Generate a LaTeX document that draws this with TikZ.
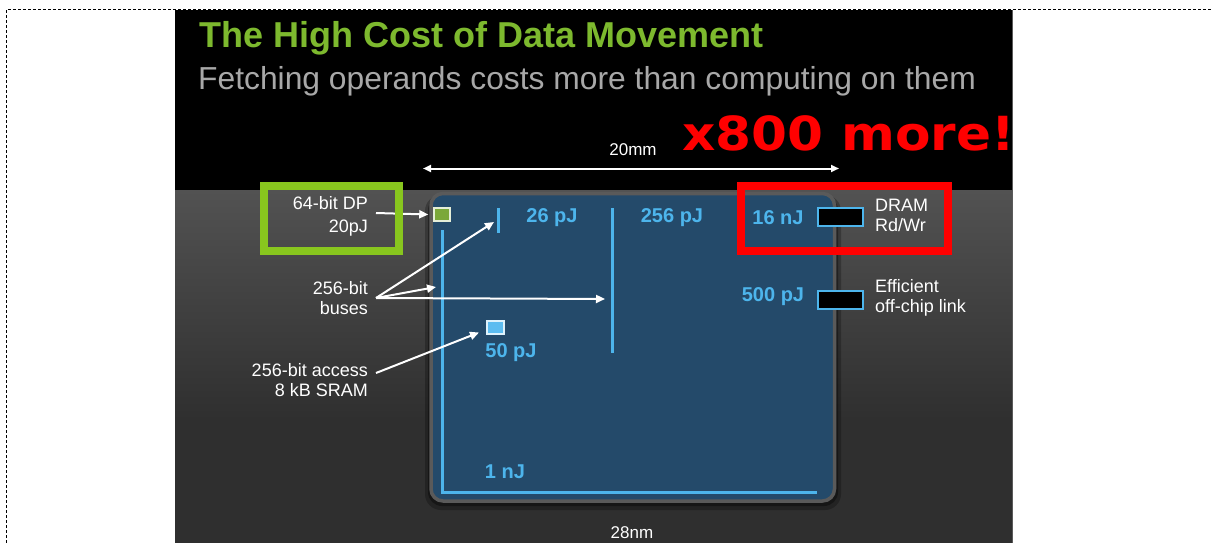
\documentclass[tikz,border=0pt]{standalone}
\usepackage{fontspec}
\setmainfont{Liberation Sans}
\newfontfamily\shoutfont{DejaVu Sans}
\usetikzlibrary{arrows.meta}

\definecolor{titlegreen}{HTML}{7DB92E}
\definecolor{subgray}{HTML}{A8A8A8}
\definecolor{chipblue}{HTML}{244A6A}
\definecolor{chiprim}{HTML}{5A5A5A}
\definecolor{wireblue}{HTML}{4DB5EC}
\definecolor{framegreen}{HTML}{88C61E}
\definecolor{alarmred}{HTML}{FF0000}
\definecolor{alugreen}{HTML}{7BA83A}
\definecolor{sramblue}{HTML}{5CBCF0}
\definecolor{floorgray}{HTML}{2F2F2F}
\definecolor{bandgray}{HTML}{525252}

\newcommand\fsz[2]{\fontsize{#1}{#2}\selectfont}

\begin{document}
\begin{tikzpicture}[x=1pt,y=-1pt,
  wire/.style={draw=wireblue,line width=3pt},
  callout/.style={white,line width=2pt,-{Triangle[length=9pt,width=8pt]}},
  dimline/.style={white,line width=2pt,{Triangle[length=8pt,width=7pt]}-{Triangle[length=8pt,width=7pt]}},
  leftlabel/.style={text=white,font={\fsz{18}{22}},align=right,anchor=east,inner sep=0pt},
  rightlabel/.style={text=white,font={\fsz{18}{20}},align=left,anchor=west,inner sep=0pt},
  energy/.style={text=wireblue,font={\bfseries\fsz{20}{24}},inner sep=0pt},
  padbox/.style={draw=wireblue,fill=black,line width=2pt,minimum width=45pt,minimum height=18pt,inner sep=0pt},
  unitbox/.style={line width=1.5pt,minimum width=16pt,minimum height=13pt,inner sep=0pt},
]
\useasboundingbox (0,0) rectangle (1211,543);

% page frame
\draw[black,line width=1pt,dash pattern=on 3pt off 2pt] (6.5,543) -- (6.5,9.5) -- (1211,9.5);

% slide background: black header, grey floor with a lighter band
\fill[black] (175,10.5) rectangle (1012,190);
\fill[floorgray] (175,190) rectangle (1012,543);
\shade[top color=bandgray,bottom color=floorgray] (175,190) rectangle (1012,420);
\draw[chiprim,line width=1pt] (1012,10.5) -- (1012,543);

% title and subtitle
\node[anchor=west,inner sep=0pt,text=titlegreen,font={\bfseries\fsz{36}{40}}] (title) at (199,38.5) {The High Cost of Data Movement};
\node[anchor=west,inner sep=0pt,text=subgray,font={\fsz{31.8}{36}}] (subtitle) at (198,81.5) {Fetching operands costs more than computing on them};

% red exclamation
\node[anchor=west,inner sep=0pt,text=alarmred,font={\shoutfont\bfseries\fsz{47}{50}},xscale=1.1] (shout) at (682,133) {x800 more!};

% die size
\coordinate (dimL) at (423,168.5);
\coordinate (dimR) at (839,168.5);
\draw[dimline] (dimL) -- (dimR);
\node[text=white,font={\fsz{17}{20}},inner sep=0pt] (mm) at (633,150) {20mm};

% chip with its shadow
\fill[black,opacity=0.25,rounded corners=16pt] (425,195) rectangle (841,510);
\fill[black,opacity=0.35,rounded corners=14pt] (428,196) rectangle (838,506);
\draw[chiprim,line width=3.5pt,fill=chipblue,rounded corners=12pt] (431,193.5) rectangle (834.5,501);

% on-chip wires
\coordinate (wireTop) at (442,230);
\coordinate (wireCorner) at (442,492);
\coordinate (wireEnd) at (817,492);
\draw[wire] (wireTop) -- (wireCorner) -- (wireEnd);
\coordinate (tickTop) at (498,208);
\coordinate (tickBot) at (498,233);
\draw[wire] (tickTop) -- (tickBot);
\coordinate (longTop) at (612,208);
\coordinate (longBot) at (612,353);
\draw[wire] (longTop) -- (longBot);

% functional units
\node[unitbox,draw=white!80!alugreen,fill=alugreen] (alu) at (442,214.5) {};
\node[unitbox,draw=white!80!sramblue,fill=sramblue,minimum width=17pt] (sram) at (495.5,327.5) {};
\node[padbox] (dram) at (840.5,217) {};
\node[padbox] (link) at (840.5,300) {};

% energy figures
\node[energy] (e26) at (552,218) {26 pJ};
\node[energy] (e256) at (672,218) {256 pJ};
\node[energy] (e16) at (778,218) {16 nJ};
\node[energy] (e500) at (773,297) {500 pJ};
\node[energy] (e50) at (511,353) {50 pJ};
\node[energy] (e1) at (505,472) {1 nJ};

% off-chip labels
\node[rightlabel] (dramlbl) at (875,215) {DRAM\\Rd/Wr};
\node[rightlabel] (linklbl) at (875,297.5) {Efficient\\off-chip link};

% left-hand labels
\node[leftlabel,font={\fsz{18}{23}}] (dp) at (368,216.5) {64-bit DP\\20pJ};
\node[leftlabel,font={\fsz{18}{20}}] (buses) at (368,298) {256-bit\\buses};
\node[leftlabel,font={\fsz{18}{20}}] (access) at (368,380) {256-bit access\\8 kB SRAM};

% callout arrows
\coordinate (busA) at (494,222);
\coordinate (busB) at (436,287);
\coordinate (busC) at (605,299);
\coordinate (sramTip) at (479,332.5);
\draw[callout] ([shift={(8,-3.5)}]dp.east) -- ([xshift=-5pt]alu.west);
\draw[callout] ([xshift=8pt]buses.east) -- (busA);
\draw[callout] ([xshift=8pt]buses.east) -- (busB);
\draw[callout] ([xshift=8pt]buses.east) -- (busC);
\draw[callout] ([shift={(8,-7)}]access.east) -- (sramTip);

% process node
\node[text=white,font={\fsz{17}{20}},inner sep=0pt] (node28) at (632,533) {28nm};

% highlight frames
\draw[framegreen,line width=8pt] (264,186) rectangle (399,251);
\draw[alarmred,line width=8pt] (741,186) rectangle (948,251);
\end{tikzpicture}
\end{document}
